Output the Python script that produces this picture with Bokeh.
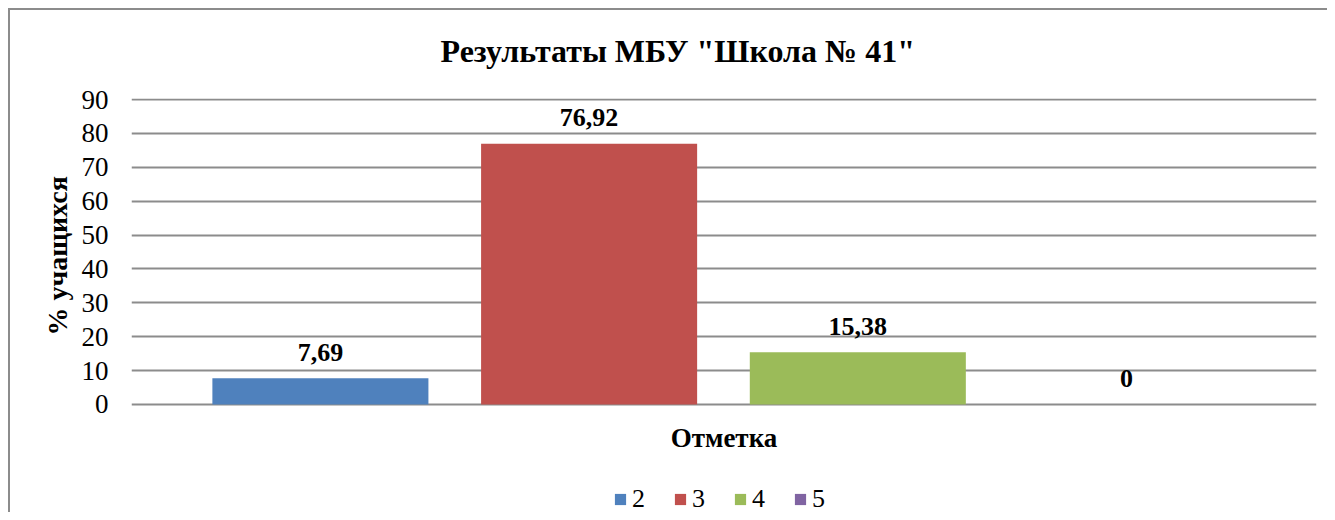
from bokeh.plotting import figure
from bokeh.models import ColumnDataSource, FixedTicker, Range1d, Legend, LegendItem, Title, Label
from bokeh.core.properties import value
from bokeh.embed import file_html
from bokeh.resources import INLINE

title_text = 'Результаты МБУ "Школа № 41"'
y_label = "% учащихся"
x_label = "Отметка"
grades = ["2", "3", "4", "5"]
percents = [7.69, 76.92, 15.38, 0]
labels = ["7,69", "76,92", "15,38", "0"]
colors = ["#4F81BD", "#C0504D", "#9BBB59", "#8064A2"]
y_ticks = [0, 10, 20, 30, 40, 50, 60, 70, 80, 90]
x_pos = [1, 2, 3, 4]

FONT = "Liberation Serif"

p = figure(width=1327, height=512, output_backend="svg", toolbar_location=None,
           x_range=Range1d(0.297, 4.707), y_range=Range1d(-31.9, 90.3),
           x_axis_location=None,
           min_border_left=131, min_border_right=11, min_border_top=98, min_border_bottom=0)
p.styles = {"box-shadow": "inset 8px 8px 0 0 #ffffff, inset 10px 10px 0 0 #8c8c8c"}
p.outline_line_color = None
p.background_fill_color = None
p.border_fill_color = None

p.title.text = title_text
p.title.align = "left"
p.title.offset = 309
p.title.text_font = FONT
p.title.text_font_size = "32px"
p.title.text_font_style = "bold"
p.title.text_color = "black"
p.title.standoff = 59

src = ColumnDataSource(dict(x=x_pos, top=percents, grade=grades, color=colors, label=labels))
r = p.vbar(x="x", top="top", width=0.804, fill_color="color", line_color=None, source=src)

p.text(x="x", y="top", text="label", source=src, text_align="center", text_baseline="alphabetic",
       y_offset=-26, text_font=value(FONT), text_font_size="26px", text_font_style="bold",
       text_color="black")

# y axis
p.yaxis.ticker = FixedTicker(ticks=y_ticks)
p.yaxis.axis_line_color = None
p.yaxis.major_tick_line_color = None
p.yaxis.minor_tick_line_color = None
p.yaxis.major_tick_out = 0
p.yaxis.major_tick_in = 0
p.yaxis.major_label_standoff = 23
p.yaxis.major_label_text_font = FONT
p.yaxis.major_label_text_font_size = "27px"
p.yaxis.major_label_text_color = "black"

ytitle = Title(text=y_label, align="left", offset=177, text_font=FONT, text_font_size="28px",
               text_font_style="bold", text_color="black", standoff=11)
p.add_layout(ytitle, "left")

p.xgrid.grid_line_color = None
p.ygrid.ticker = FixedTicker(ticks=y_ticks)
p.ygrid.grid_line_color = "#8c8c8c"
p.ygrid.grid_line_width = 2

xl = Label(x=592.5, y=75, x_units="screen", y_units="screen", text=x_label,
           text_align="center", text_baseline="middle", text_font=FONT,
           text_font_size="27px", text_font_style="bold", text_color="black")
p.add_layout(xl)

items = [LegendItem(label=g, renderers=[r], index=i) for i, g in enumerate(grades)]
legend = Legend(items=items, orientation="horizontal", location=(482, -2),
                glyph_width=14, glyph_height=14, label_standoff=5, spacing=21,
                padding=0, margin=0, border_line_color=None, background_fill_alpha=0,
                label_text_font=FONT, label_text_font_size="26px", label_text_color="black")
p.add_layout(legend, "center")

open("out.html", "w").write(file_html(p, INLINE))
